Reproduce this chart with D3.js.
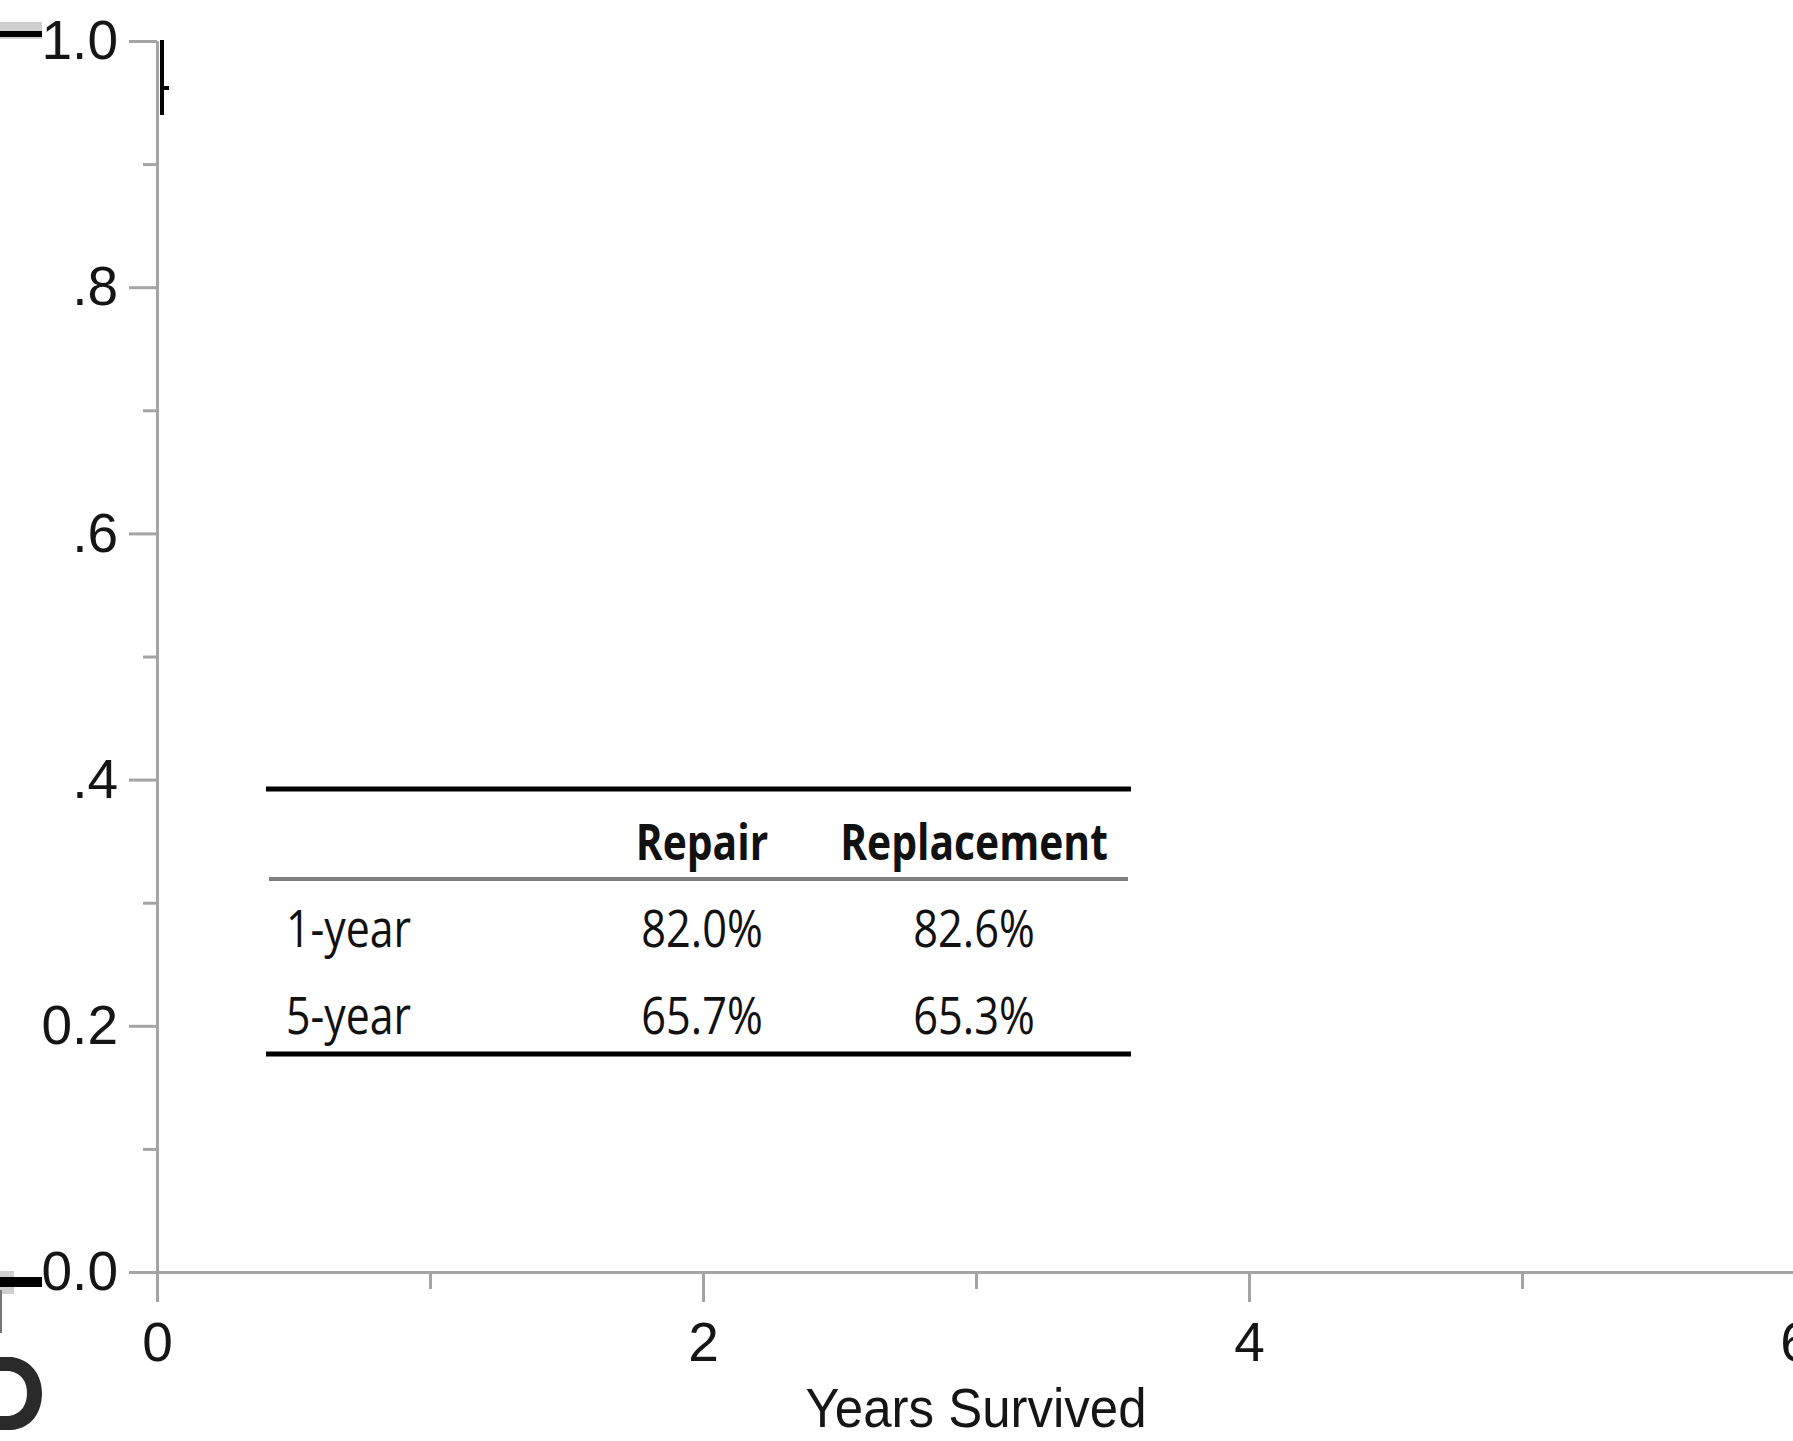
<!DOCTYPE html>
<html>
<head>
<meta charset="utf-8">
<script src="https://cdn.jsdelivr.net/npm/d3@7"></script>
<style>
  body { margin: 0; background: #fff; }
</style>
</head>
<body>
<svg id="chart"></svg>
<script>
// axis ticks
const yTicks = [0, 0.2, 0.4, 0.6, 0.8, 1.0];
const yTickLabels = ["0.0", "0.2", ".4", ".6", ".8", "1.0"];
const yMinorTicks = [0.1, 0.3, 0.5, 0.7, 0.9];
const xTicks = [0, 2, 4, 6];
const xMinorTicks = [1, 3, 5];
const xTitle = "Years Survived";

// inset table
const tableColumns = ["Repair", "Replacement"];
const tableRows = ["1-year", "5-year"];
const repairValues = [82.0, 65.7];
const replacementValues = [82.6, 65.3];

const width = 1793;
const height = 1441;
const axisColor = "#a4a4a4";
const axisFont = "'Liberation Sans', Arial, sans-serif";
const tableFont = "'Open Sans', 'Noto Sans', sans-serif";

const x = d3.scaleLinear().domain([0, 6]).range([157, 1795]);
const y = d3.scaleLinear().domain([0, 1]).range([1272, 41]);

const svg = d3.select("#chart")
    .attr("width", width)
    .attr("height", height)
    .attr("viewBox", [0, 0, width, height]);

function styleAxis(g) {
  g.selectAll("line, path").attr("stroke", axisColor).attr("stroke-width", 3);
  g.selectAll("text")
    .attr("fill", "#151515")
    .attr("font-family", axisFont)
    .attr("font-size", 55);
}

// minor ticks first
svg.append("g")
    .attr("transform", `translate(${x(0)},0)`)
    .call(d3.axisLeft(y).tickValues(yMinorTicks).tickSize(14).tickSizeOuter(0).tickFormat(""))
    .call(styleAxis);
svg.append("g")
    .attr("transform", `translate(0,${y(0)})`)
    .call(d3.axisBottom(x).tickValues(xMinorTicks).tickSize(17).tickSizeOuter(0).tickFormat(""))
    .call(styleAxis);

svg.append("g")
    .attr("transform", `translate(${x(0)},0)`)
    .call(d3.axisLeft(y).tickValues(yTicks).tickSize(28).tickPadding(11).tickSizeOuter(0)
      .tickFormat((d, i) => yTickLabels[i]))
    .call(styleAxis);
svg.append("g")
    .attr("transform", `translate(0,${y(0)})`)
    .call(d3.axisBottom(x).tickValues(xTicks).tickSize(30).tickPadding(20).tickSizeOuter(0)
      .tickFormat(d3.format("d")))
    .call(styleAxis);

svg.append("text")
    .attr("x", x(3))
    .attr("y", 1427)
    .attr("text-anchor", "middle")
    .attr("font-family", axisFont)
    .attr("font-size", 55)
    .attr("fill", "#151515")
    .attr("textLength", 341)
    .attr("lengthAdjust", "spacingAndGlyphs")
    .text(xTitle);

// cropped fragments at the edges of the source figure
svg.append("rect").attr("x", 0).attr("y", 22).attr("width", 42).attr("height", 17).attr("fill", "#cfcfcf");
svg.append("rect").attr("x", 0).attr("y", 31).attr("width", 42).attr("height", 6).attr("fill", "#000");
svg.append("rect").attr("x", 0).attr("y", 1271).attr("width", 14).attr("height", 23).attr("fill", "#cfcfcf");
svg.append("rect").attr("x", 0).attr("y", 1277).attr("width", 42).attr("height", 10).attr("fill", "#000");
svg.append("rect").attr("x", 0).attr("y", 1290).attr("width", 2).attr("height", 43).attr("fill", "#777");
svg.append("path")
    .attr("d", "M162,40V115M162,88H169")
    .attr("stroke", "#000").attr("stroke-width", 4).attr("fill", "none");
svg.append("path")
    .attr("d", "M0,1357H12C32,1360 42,1376 42,1393C42,1412 32,1428 12,1430H0V1416H9C22,1414 27,1404 27,1393C27,1382 22,1373 9,1371H0Z")
    .attr("fill", "#2a2a2a")
    .attr("fill-rule", "evenodd");

// inset table
const tLeft = 266, tRight = 1131;
const rowY = d3.scalePoint().domain(["header", ...tableRows]).range([860, 1034]);
const colX = d3.scalePoint().domain(tableColumns).range([702, 974]);
const table = svg.append("g");

table.append("line").attr("x1", tLeft).attr("x2", tRight).attr("y1", 789).attr("y2", 789)
    .attr("stroke", "#000").attr("stroke-width", 5);
table.append("line").attr("x1", tLeft + 3).attr("x2", tRight - 3).attr("y1", 879).attr("y2", 879)
    .attr("stroke", "#808080").attr("stroke-width", 4);
table.append("line").attr("x1", tLeft).attr("x2", tRight).attr("y1", 1054).attr("y2", 1054)
    .attr("stroke", "#000").attr("stroke-width", 5);

function squash(sel, k) {
  sel.each(function() {
    const len = this.getComputedTextLength();
    d3.select(this).attr("textLength", len * k).attr("lengthAdjust", "spacingAndGlyphs");
  });
}

table.selectAll("text.head")
  .data(tableColumns)
  .join("text")
    .attr("class", "head")
    .attr("x", d => colX(d))
    .attr("y", rowY("header"))
    .attr("text-anchor", "middle")
    .attr("font-family", tableFont)
    .attr("font-weight", "bold")
    .attr("font-size", 51)
    .attr("fill", "#111")
    .text(d => d)
    .call(squash, 0.8);

table.selectAll("text.rowlab")
  .data(tableRows)
  .join("text")
    .attr("class", "rowlab")
    .attr("x", 286)
    .attr("y", d => rowY(d))
    .attr("font-family", tableFont)
    .attr("font-size", 51)
    .attr("fill", "#111")
    .text(d => d)
    .call(squash, 0.84);

const cells = [];
tableRows.forEach((r, i) => {
  cells.push({row: r, col: tableColumns[0], v: repairValues[i]});
  cells.push({row: r, col: tableColumns[1], v: replacementValues[i]});
});
table.selectAll("text.cell")
  .data(cells)
  .join("text")
    .attr("class", "cell")
    .attr("x", d => colX(d.col))
    .attr("y", d => rowY(d.row))
    .attr("text-anchor", "middle")
    .attr("font-family", tableFont)
    .attr("font-size", 51)
    .attr("fill", "#111")
    .text(d => d3.format(".1f")(d.v) + "%")
    .call(squash, 0.85);
</script>
</body>
</html>
